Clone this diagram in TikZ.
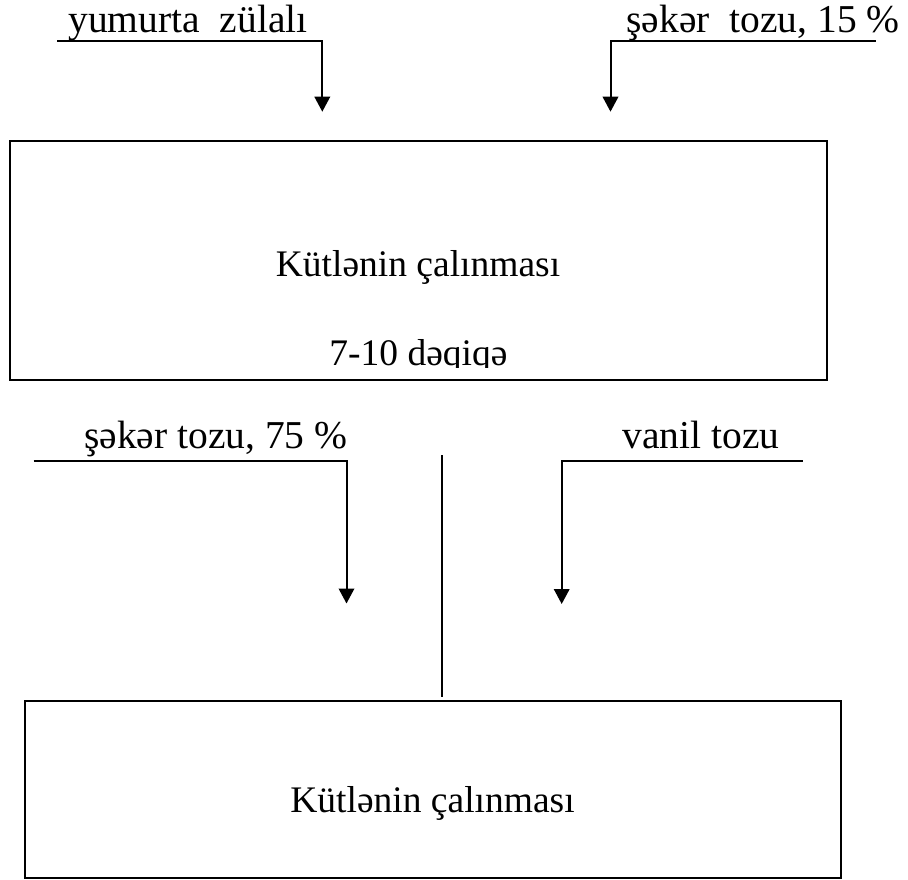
\documentclass[tikz,border=0pt]{standalone}
\usepackage{fontspec}
\setmainfont{Liberation Serif}
\usetikzlibrary{arrows.meta}
\tikzset{
  lbl/.style={font=\fontsize{39.5}{47}\selectfont, inner sep=0pt, anchor=base},
  boxtxt/.style={font=\fontsize{37.5}{45}\selectfont, inner sep=0pt, anchor=base},
  stagebox/.style={draw, line width=2pt, inner sep=0pt, outer sep=0pt},
  feed/.style={line width=2pt, -{Triangle[width=15.5pt,length=15pt]}},
  plainline/.style={line width=1.6pt}
}
\begin{document}
\begin{tikzpicture}[x=1pt,y=-1pt]
\useasboundingbox (0,0) rectangle (908,880);
% boxes
\node[stagebox, minimum width=816.8pt, minimum height=239.3pt] (b1) at (418.3,260.5) {};
\node[stagebox, minimum width=816.3pt, minimum height=177.3pt] (b2) at (432.85,789.35) {};
% box texts
\node[boxtxt] (k1) at (418,276) {Kütlənin çalınması};
\begin{scope}
  \clip (0,300) rectangle (908,367.5);
  \node[boxtxt] (d1) at (418.5,365) {7-10 dəqiqə};
\end{scope}
\node[boxtxt] (k2) at (432.5,812.7) {Kütlənin çalınması};
% labels
\node[lbl] (t1) at (188,33) {yumurta\ \ zülalı};
\node[lbl] (t2) at (763,33) {şəkər\ \ tozu, 15 \%};
\node[lbl] (t3) at (215.8,448.5) {şəkər tozu, 75 \%};
\node[lbl] (t4) at (701,448.5) {vanil tozu};
% connector ends
\coordinate (s1) at (57.3,40.7);
\coordinate (e1) at (322.3,111.7);
\coordinate (s2) at (875.7,40.7);
\coordinate (e2) at (610.5,111.7);
\coordinate (s3) at (33.6,460.7);
\coordinate (e3) at (346.5,603.5);
\coordinate (s4) at (802.7,460.7);
\coordinate (e4) at (561.7,604);
\coordinate (c1) at (441.7,455);
\coordinate (c2) at (441.7,697);
% connectors
\draw[feed] (s1) -| (e1);
\draw[feed] (s2) -| (e2);
\draw[feed] (s3) -| (e3);
\draw[feed] (s4) -| (e4);
\draw[plainline] (c1) -- (c2);
\end{tikzpicture}
\end{document}
